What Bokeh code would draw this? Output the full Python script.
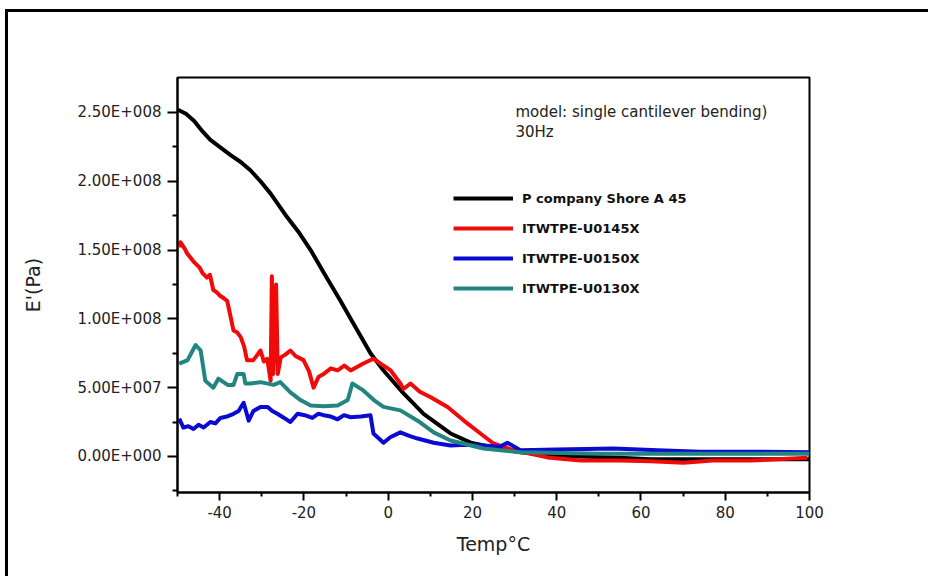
from bokeh.plotting import figure
from bokeh.models import FixedTicker, Legend, LegendItem, Label, Range1d
from bokeh.embed import file_html
from bokeh.resources import INLINE

# ---- data (temperature in degC, storage modulus E' in Pa) ----
black_t = [-49.9, -48.0, -46.1, -44.0, -42.2, -40.0, -37.4, -35.0, -32.7, -30.3, -27.9, -24.0,
           -21.0, -18.4, -15.0, -11.3, -8.9, -4.2, -1.1, 3.6, 8.4, 14.8, 19.6, 25.0, 31.4, 38.0,
           45.7, 55.0, 62.3, 75.0, 86.0, 100.0]
black_e = [2.52e8, 2.49e8, 2.44e8, 2.36e8, 2.30e8, 2.25e8, 2.19e8, 2.14e8, 2.08e8, 2.00e8, 1.91e8,
           1.74e8, 1.62e8, 1.50e8, 1.32e8, 1.13e8, 1.00e8, 0.75e8, 0.625e8, 0.46e8, 0.31e8,
           0.167e8, 0.10e8, 0.065e8, 0.03e8, 0.01e8, 0.0, -0.01e8, -0.02e8, -0.02e8, -0.02e8, -0.02e8]

red_t = [-49.6, -49.3, -48.3, -47.7, -46.0, -44.7, -44.0, -43.0, -42.3, -41.5, -40.6, -40.0, -39.0,
         -38.2, -37.5, -36.7, -35.8, -35.0, -34.2, -33.5, -32.0, -31.0, -30.3, -29.5, -28.7, -27.9,
         -27.6, -27.3, -26.6, -26.2, -25.5, -24.4, -23.2, -22.0, -20.1, -18.8, -17.7, -16.5, -15.3,
         -13.6, -12.0, -10.4, -8.9, -7.4, -5.9, -3.5, -1.8, 0.6, 2.9, 3.6, 5.3, 7.5, 10.1, 14.1,
         18.8, 21.9, 25.0, 29.8, 37.8, 45.7, 54.8, 62.3, 70.1, 77.0, 86.0, 99.5]
red_e = [1.52e8, 1.557e8, 1.51e8, 1.475e8, 1.41e8, 1.37e8, 1.33e8, 1.30e8, 1.32e8, 1.21e8, 1.19e8,
         1.17e8, 1.15e8, 1.13e8, 1.03e8, 0.915e8, 0.90e8, 0.867e8, 0.80e8, 0.70e8, 0.70e8, 0.74e8,
         0.77e8, 0.69e8, 0.71e8, 0.55e8, 1.31e8, 0.60e8, 1.25e8, 0.60e8, 0.72e8, 0.74e8, 0.77e8,
         0.73e8, 0.70e8, 0.62e8, 0.50e8, 0.58e8, 0.60e8, 0.64e8, 0.625e8, 0.66e8, 0.625e8, 0.65e8,
         0.675e8, 0.71e8, 0.675e8, 0.625e8, 0.53e8, 0.49e8, 0.53e8, 0.47e8, 0.43e8, 0.36e8,
         0.24e8, 0.167e8, 0.094e8, 0.044e8, -0.007e8, -0.03e8, -0.03e8, -0.035e8, -0.045e8,
         -0.03e8, -0.03e8, -0.01e8]

blue_t = [-49.6, -48.6, -47.4, -46.2, -45.0, -43.8, -42.2, -41.0, -39.8, -38.3, -36.7, -35.5, -34.3,
          -33.1, -32.0, -30.3, -28.6, -27.5, -26.3, -24.7, -23.2, -21.5, -19.8, -18.0, -16.6, -15.3,
          -13.6, -12.0, -10.5, -8.9, -6.5, -4.2, -3.5, -1.1, 0.5, 2.9, 5.0, 7.0, 10.8, 14.8, 18.5,
          22.6, 26.5, 28.3, 31.4, 40.0, 53.5, 64.0, 74.1, 88.0, 100.0]
blue_e = [0.275e8, 0.21e8, 0.22e8, 0.20e8, 0.23e8, 0.21e8, 0.25e8, 0.24e8, 0.28e8, 0.29e8, 0.31e8,
          0.33e8, 0.39e8, 0.26e8, 0.33e8, 0.36e8, 0.36e8, 0.33e8, 0.31e8, 0.28e8, 0.25e8, 0.31e8,
          0.30e8, 0.28e8, 0.31e8, 0.30e8, 0.29e8, 0.27e8, 0.30e8, 0.285e8, 0.29e8, 0.30e8,
          0.167e8, 0.10e8, 0.14e8, 0.175e8, 0.15e8, 0.13e8, 0.10e8, 0.08e8, 0.085e8, 0.08e8,
          0.07e8, 0.10e8, 0.045e8, 0.05e8, 0.058e8, 0.045e8, 0.035e8, 0.035e8, 0.03e8]

teal_t = [-49.6, -47.6, -45.7, -44.5, -43.4, -41.5, -40.3, -38.1, -36.7, -35.8, -34.3, -33.9, -32.7,
          -30.3, -27.2, -25.6, -23.2, -20.8, -18.4, -15.2, -12.0, -9.6, -8.5, -5.9, -3.4, -1.1,
          2.9, 7.0, 10.8, 14.8, 22.6, 31.4, 50.4, 75.0, 100.0]
teal_e = [0.675e8, 0.70e8, 0.81e8, 0.77e8, 0.55e8, 0.50e8, 0.565e8, 0.52e8, 0.52e8, 0.60e8, 0.60e8,
          0.53e8, 0.53e8, 0.54e8, 0.52e8, 0.54e8, 0.465e8, 0.41e8, 0.37e8, 0.365e8, 0.37e8,
          0.41e8, 0.53e8, 0.48e8, 0.41e8, 0.36e8, 0.335e8, 0.26e8, 0.175e8, 0.116e8, 0.058e8,
          0.03e8, 0.02e8, 0.02e8, 0.02e8]

series_names = ["P company Shore A 45", "ITWTPE-U0145X", "ITWTPE-U0150X", "ITWTPE-U0130X"]

x_ticks = [-40, -20, 0, 20, 40, 60, 80, 100]
x_minor = [-50, -30, -10, 10, 30, 50, 70, 90]
x_labels = ["-40", "-20", "0", "20", "40", "60", "80", "100"]
y_ticks = [0, 5e7, 1e8, 1.5e8, 2e8, 2.5e8]
y_minor = [-2.5e7, 2.5e7, 7.5e7, 1.25e8, 1.75e8, 2.25e8]
y_labels = ["0.00E+000", "5.00E+007", "1.00E+008", "1.50E+008", "2.00E+008", "2.50E+008"]

note_lines = ["model: single cantilever bending)", "30Hz"]

# ---- figure ----
FONT = "DejaVu Sans"
p = figure(width=928, height=576, output_backend="svg", toolbar_location=None,
           x_range=Range1d(-50, 100), y_range=Range1d(-2.62e7, 2.754e8),
           min_border_left=177, min_border_right=119, min_border_top=77, min_border_bottom=84)
# outer picture frame (left and top edges): painted as the host background,
# seen through the transparent border area of the canvas
p.styles = {"background": "linear-gradient(#000000, #000000) 5px 9px / 3px 100% no-repeat, "
                          "linear-gradient(#000000, #000000) 5px 9px / 100% 3px no-repeat, "
                          "#ffffff"}
p.background_fill_color = "white"
p.border_fill_color = None
p.outline_line_color = "black"
p.outline_line_width = 2
p.xgrid.visible = False
p.ygrid.visible = False

for ax in (p.xaxis[0], p.yaxis[0]):
    ax.axis_line_width = 2
    ax.axis_line_color = "black"
    ax.major_tick_line_width = 2
    ax.minor_tick_line_width = 2
    ax.major_tick_line_color = "black"
    ax.minor_tick_line_color = "black"
    ax.major_tick_in = 0
    ax.minor_tick_in = 0
    ax.major_label_text_font = FONT
    ax.major_label_text_font_size = "15px"
    ax.major_label_text_color = "#222222"
    ax.axis_label_text_font = FONT
    ax.axis_label_text_font_size = "19px"
    ax.axis_label_text_font_style = "normal"
    ax.axis_label_text_color = "#222222"

p.xaxis[0].ticker = FixedTicker(ticks=x_ticks, minor_ticks=x_minor)
p.xaxis[0].major_label_overrides = {t: l for t, l in zip(x_ticks, x_labels)}
p.xaxis[0].major_tick_out = 8
p.xaxis[0].minor_tick_out = 4
p.xaxis[0].major_label_standoff = 5
p.xaxis[0].axis_label = "Temp°C"
p.xaxis[0].axis_label_standoff = 12

p.yaxis[0].ticker = FixedTicker(ticks=y_ticks, minor_ticks=y_minor)
p.yaxis[0].major_label_overrides = {t: l for t, l in zip(y_ticks, y_labels)}
p.yaxis[0].major_tick_out = 10
p.yaxis[0].minor_tick_out = 5
p.yaxis[0].major_label_standoff = 6
p.yaxis[0].axis_label = "E'(Pa)"
p.yaxis[0].axis_label_standoff = 30

colors = ["#000000", "#f00a0a", "#0a0ad2", "#22857f"]
data = [(black_t, black_e), (red_t, red_e), (blue_t, blue_e), (teal_t, teal_e)]
renderers = []
for (t, e), c in zip(data, colors):
    r = p.line(t, e, line_color=c, line_width=4, line_join="round")
    renderers.append(r)

legend = Legend(items=[LegendItem(label=n, renderers=[r]) for n, r in zip(series_names, renderers)],
                location=(276, 194), glyph_width=60, glyph_height=20, label_height=20,
                spacing=10, padding=0, margin=0, border_line_color=None,
                background_fill_alpha=0, label_text_font=FONT, label_text_font_style="bold",
                label_text_font_size="13px", label_text_color="#111111", label_standoff=9)
p.add_layout(legend)

p.add_layout(Label(x=30.2, y=2.50e8, text=note_lines[0], text_baseline="middle",
                   text_font=FONT, text_font_size="15px", text_color="#222222"))
p.add_layout(Label(x=30.2, y=2.355e8, text=note_lines[1], text_baseline="middle",
                   text_font=FONT, text_font_size="15px", text_color="#222222"))

open("out.html", "w").write(file_html(p, INLINE))
